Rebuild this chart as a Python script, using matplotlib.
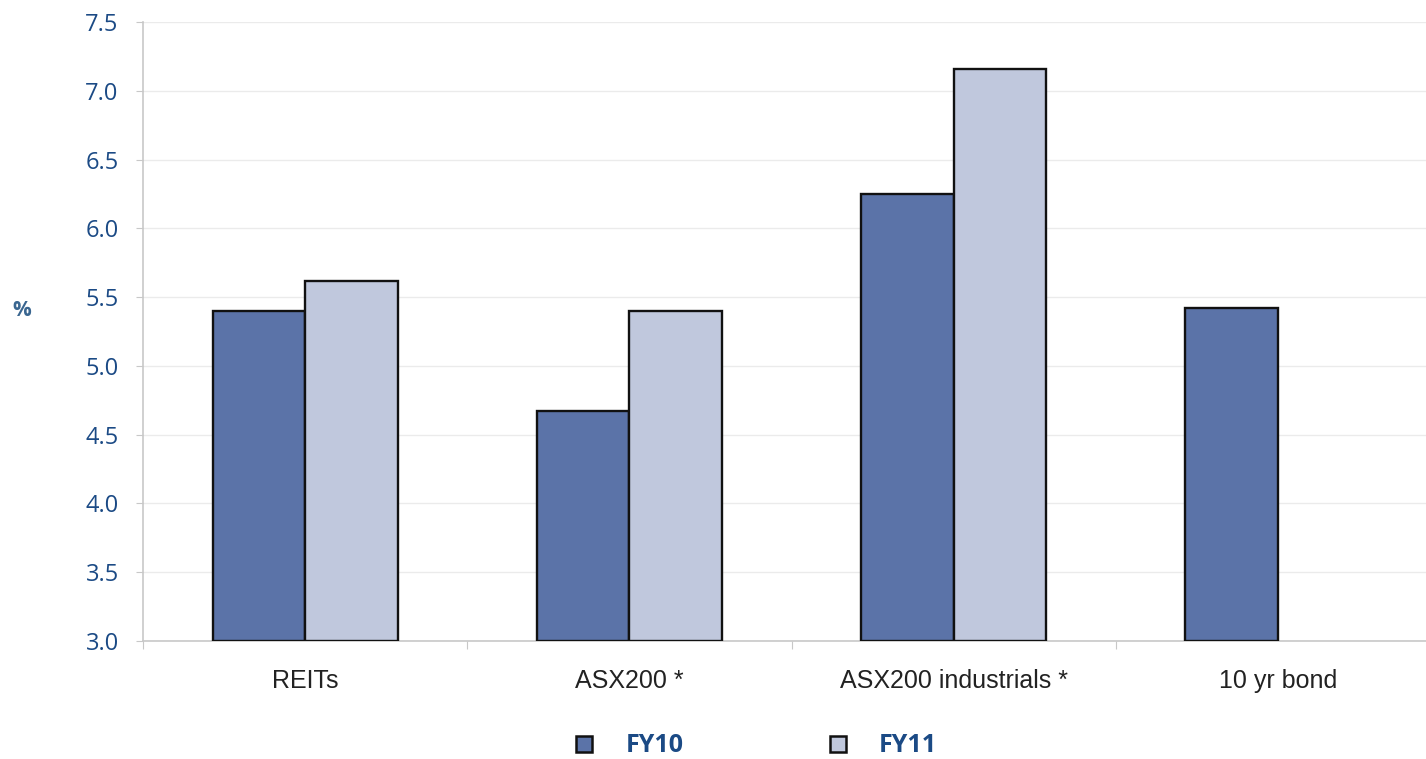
import matplotlib
matplotlib.use("Agg")
import matplotlib.pyplot as plt
import numpy as np
from matplotlib.lines import Line2D

categories = ["REITs", "ASX200 *", "ASX200 industrials *", "10 yr bond"]
fy10 = [5.40, 4.67, 6.25, 5.42]
fy11 = [5.62, 5.40, 7.16, np.nan]
series_names = ["FY10", "FY11"]
yticks = [3.0, 3.5, 4.0, 4.5, 5.0, 5.5, 6.0, 6.5, 7.0, 7.5]

c10 = "#5B73A8"
c11 = "#C0C8DD"
blue_txt = "#1B4A85"

W, H = 1426, 759
fig = plt.figure(figsize=(W / 100, H / 100), dpi=100)
ax = fig.add_axes([143 / W, 1 - 641 / H, (1440 - 143) / W, (641 - 22) / H])

x = np.arange(len(categories))
bw = 0.285
ax.bar(x - bw / 2, [v - 3 for v in fy10], bw, bottom=3, color=c10, edgecolor="#111111", linewidth=1.7, zorder=3)
ax.bar(x + bw / 2, [v - 3 for v in fy11], bw, bottom=3, color=c11, edgecolor="#111111", linewidth=1.7, zorder=3)

ax.set_xlim(-0.5, len(categories) - 0.5)
ax.set_ylim(3.0, 7.5)
ax.set_yticks(yticks)
ax.set_yticklabels([f"{t:.1f}" for t in yticks], fontfamily="Open Sans", fontsize=17, color=blue_txt)
ax.yaxis.grid(True, color="#EBEBEB", linewidth=1.0, zorder=0)
ax.tick_params(axis="y", length=5, color="#C8C8C8", pad=12.5)

ax.set_xticks(np.arange(len(categories) + 1) - 0.5, minor=False)
ax.set_xticklabels([])
ax.set_xticks(x, minor=True)
ax.set_xticklabels(categories, minor=True, fontfamily="Liberation Sans", fontsize=18, color="#222222")
ax.tick_params(axis="x", which="major", length=6, color="#C8C8C8")
ax.tick_params(axis="x", which="minor", length=0, pad=20)

for s in ["top", "right"]:
    ax.spines[s].set_visible(False)
for s in ["left", "bottom"]:
    ax.spines[s].set_color("#C8C8C8")
    ax.spines[s].set_linewidth(1.2)

fig.text(22 / W, 1 - 311 / H, "%", fontfamily="Open Sans", fontweight="bold", fontsize=15,
         color="#3A6690", ha="center", va="center")

handles = [Line2D([], [], marker="s", linestyle="none", markersize=12, markerfacecolor=c, markeredgecolor="#111111",
                  markeredgewidth=1.8) for c in (c10, c11)]
leg = fig.legend(handles, series_names, loc="center", bbox_to_anchor=(754.5 / W, 1 - 746 / H), ncol=2,
                 frameon=False, handletextpad=1.14, columnspacing=5.68, handlelength=1.0,
                 borderpad=0, prop={"family": "Open Sans", "weight": "bold", "size": 18})
for t in leg.get_texts():
    t.set_color(blue_txt)

fig.savefig("out.png", dpi=100)
